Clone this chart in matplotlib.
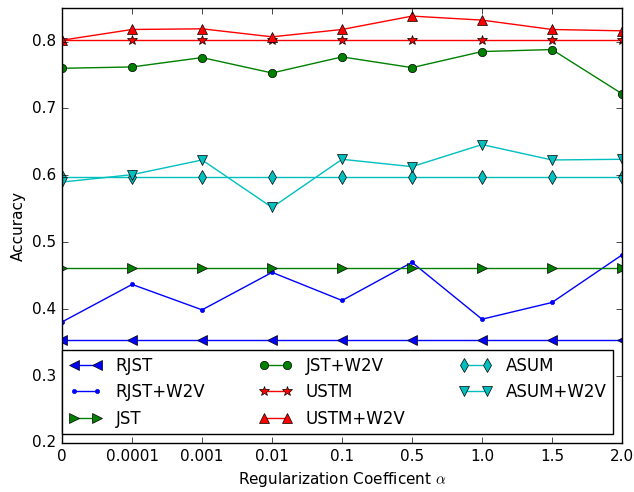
import numpy as np
from matplotlib import pyplot as plt

plt.style.use('classic')

xlabels = ['0', '0.0001', '0.001', '0.01', '0.1', '0.5', '1.0', '1.5', '2.0']
rjst = [0.354] * 9
rjst_w2v = [0.381, 0.437, 0.399, 0.455, 0.413, 0.470, 0.385, 0.410, 0.481]
jst = [0.462] * 9
jst_w2v = [0.760, 0.762, 0.776, 0.753, 0.777, 0.761, 0.785, 0.788, 0.722]
ustm = [0.802] * 9
ustm_w2v = [0.802, 0.818, 0.819, 0.807, 0.818, 0.838, 0.832, 0.818, 0.816]
asum = [0.597] * 9
asum_w2v = [0.590, 0.601, 0.623, 0.552, 0.624, 0.613, 0.646, 0.623, 0.624]

x = np.arange(len(xlabels))

fig = plt.figure(figsize=(6.34, 4.92), dpi=100)
ax = fig.add_axes([0.098, 0.0996, 0.883, 0.884])
ax.plot(x, rjst, 'b<-', label='RJST', markersize=7)
ax.plot(x, rjst_w2v, 'b.-', label='RJST+W2V', markersize=6)
ax.plot(x, jst, 'g>-', label='JST', markersize=7)
ax.plot(x, jst_w2v, 'go-', label='JST+W2V', markersize=6)
ax.plot(x, ustm, 'r*-', label='USTM', markersize=7)
ax.plot(x, ustm_w2v, 'r^-', label='USTM+W2V', markersize=7)
ax.plot(x, asum, 'cd-', label='ASUM', markersize=7)
ax.plot(x, asum_w2v, 'cv-', label='ASUM+W2V', markersize=7)

ax.set_xlim(0, 8)
ax.set_ylim(0.2, 0.85)
ax.set_xticks(x)
ax.set_xticklabels(xlabels)
ax.set_yticks(np.arange(0.2, 0.81, 0.1))
ax.tick_params(labelsize=11)
ax.set_xlabel(r'Regularization Coefficent $\alpha$', fontsize=11)
ax.set_ylabel('Accuracy', fontsize=11)
ax.legend(ncol=3, loc='lower left', bbox_to_anchor=(0, 0.02, 0.984, 0.2),
          mode='expand', fontsize=12, numpoints=2, borderaxespad=0)

fig.savefig('out.png', dpi=100)
